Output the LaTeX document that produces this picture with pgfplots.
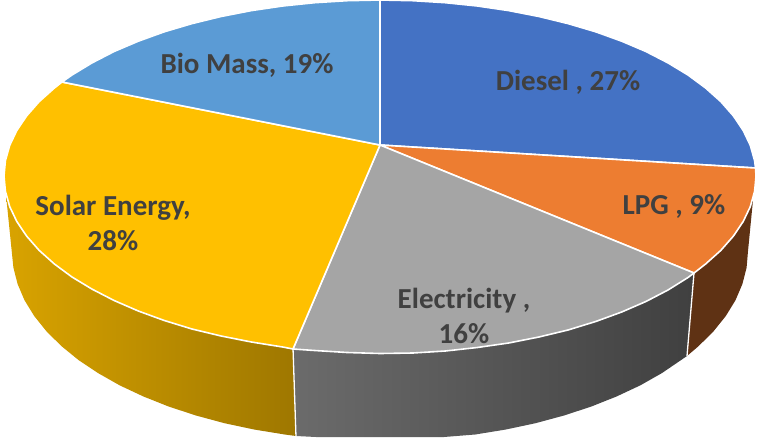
\documentclass[border=0pt]{standalone}
\usepackage{pgfplots}
\pgfplotsset{compat=1.18}
\usepackage{fontspec}
\setmainfont{Carlito}
\definecolor{cDiesel}{HTML}{4472C4}
\definecolor{cLPG}{HTML}{ED7D31}
\definecolor{cElec}{HTML}{A5A5A5}
\definecolor{cSolar}{HTML}{FFC000}
\definecolor{cBio}{HTML}{5B9BD5}
\definecolor{cText}{HTML}{404040}
\tikzset{lbl/.style={font=\fontsize{29}{35}\selectfont\bfseries, text=cText, align=center, inner sep=0pt}}
\begin{document}
\begin{tikzpicture}
\begin{axis}[
    scale only axis, width=759pt, height=437pt,
    xmin=0, xmax=759, ymin=0, ymax=437,
    y dir=reverse, hide axis, no markers,
    every axis plot/.append style={draw=white, line width=1.6pt, line join=round},
]
\path (axis cs:0,0) rectangle (axis cs:759,437);
% side walls (pixel positions)
\addplot[draw=none, fill=white, left color=black!15!cSolar, right color=black!38!cSolar] coordinates {
 (6,195) (13.4,267.6) (17.6,284) (24.5,300.2) (34.2,316) (46.5,331.3) (61.3,346) (78.5,360) (98.1,373.1)
 (119.8,385.4) (143.5,396.5) (168.9,406.6) (196,415.5) (224.5,423.2) (254.1,429.5) (284.8,434.5) (296,436)
 (293,340) (6,195)};
\addplot[draw=none, left color=black!58!white, middle color=black!70!white, right color=black!75!white] coordinates {
 (296,436) (316.1,437) (347.9,437) (380,437) (412.1,437) (443.9,437) (475.2,434.5) (505.9,429.5)
 (535.5,423.2) (564,415.5) (591.1,406.6) (616.5,396.5) (640.2,385.4) (661.9,373.1) (687,356)
 (694,274) (293,340) (296,436)};
\addplot[draw=none, fill=cLPG!40!black] coordinates {
 (687,356) (698.7,346) (713.5,331.3) (725.8,316) (735.5,300.2) (742.4,284) (746.6,267.6) (748,251)
 (753,200) (694,270) (687,356)};
% white seams between the walls
\addplot[line width=1.3pt] coordinates {(293,348) (296,437)};
\addplot[line width=1.3pt] coordinates {(694,273) (687,356)};
% top faces
\addplot[fill=cDiesel] coordinates {
 (380,145) (380,0) (412.8,.7) (445.3,2.7) (477.3,6) (508.6,10.6) (538.9,16.5) (568,23.6) (595.7,31.8)
 (621.7,41.2) (645.9,51.5) (668,62.9) (688,75) (705.6,88) (720.8,101.6) (733.3,115.8) (743.2,130.5)
 (750.3,145.4) (754.6,160.7) (755.5,168) (380,145)};
\addplot[fill=cLPG] coordinates {
 (380,145) (755.5,168) (756,176) (754.6,191.3) (750.3,206.6) (743.2,221.5) (733.3,236.2) (720.8,250.4)
 (705.6,264) (694,273) (380,145)};
\addplot[fill=cElec] coordinates {
 (380,145) (694,273) (688,277.5) (668,290) (645.9,301.5) (621.7,312) (595.7,321.5) (568,330)
 (538.9,337) (508.6,343) (477.3,347.5) (445.3,351) (412.8,353) (380,353.5) (347.2,352.5) (314.7,350.5)
 (293,349) (380,145)};
\addplot[fill=cSolar] coordinates {
 (380,145) (293,349) (282.7,347) (251.4,342) (221.1,336) (192,329) (164.3,320.5) (138.3,311)
 (114.1,300.5) (92,289.1) (72,277) (54.4,264) (39.2,250.4) (26.7,236.2) (16.8,221.5) (9.7,206.6) (5.4,191.3)
 (4,176) (5.4,160.7) (9.7,145.4) (16.8,130.5) (26.7,115.8) (39.2,101.6) (54.4,88) (62,82) (380,145)};
\addplot[fill=cBio] coordinates {
 (380,145) (62,82) (72,75) (92,62.9) (114.1,51.5) (138.3,41.2) (164.3,31.8) (192,23.6) (221.1,16.5)
 (251.4,10.6) (282.7,6) (314.7,2.7) (347.2,.7) (380,0) (380,145)};
% data labels
\node[lbl] at (axis cs:568,82) {Diesel , 27\%};
\node[lbl] at (axis cs:674,206) {LPG , 9\%};
\node[lbl] at (axis cs:464,316) {Electricity ,\\16\%};
\node[lbl] at (axis cs:113,223) {Solar Energy,\\28\%};
\node[lbl] at (axis cs:247,65) {Bio Mass, 19\%};
\end{axis}
\end{tikzpicture}
\end{document}
